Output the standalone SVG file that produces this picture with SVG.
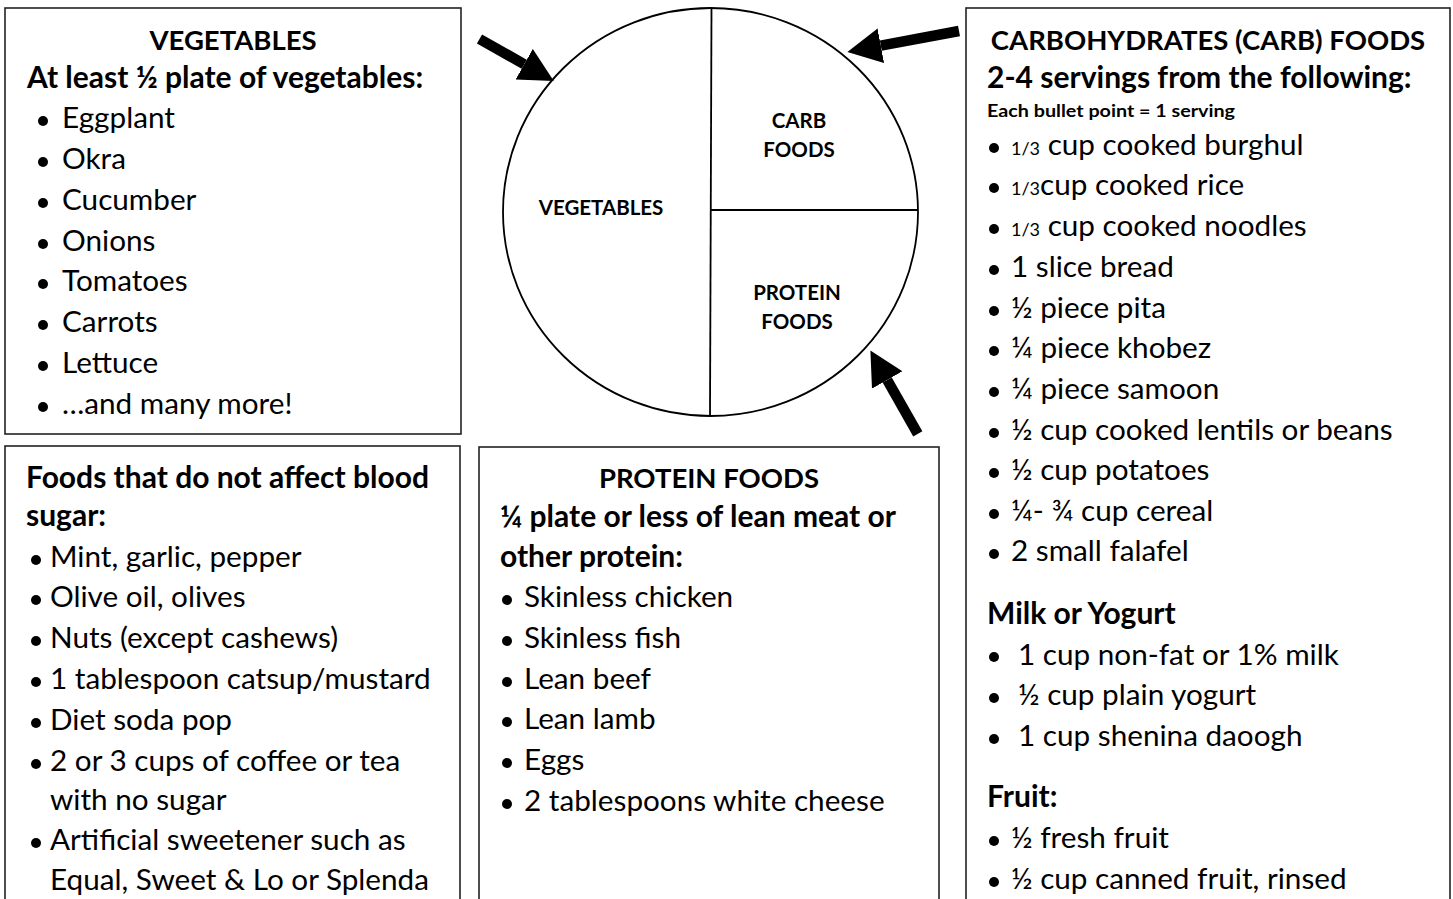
<svg xmlns="http://www.w3.org/2000/svg" width="1453" height="899" viewBox="0 0 1453 899">
<defs>
<style>
.box{fill:#fff;stroke:#222;stroke-width:1.6}
.t{font-family:Lato,"Liberation Sans",sans-serif;font-size:29.7px;fill:#000}
.b{font-family:Lato,"Liberation Sans",sans-serif;font-size:30px;font-weight:bold;fill:#000}
.h{font-family:Lato,"Liberation Sans",sans-serif;font-size:27.5px;font-weight:bold;fill:#000;text-anchor:middle}
.s{font-family:Lato,"Liberation Sans",sans-serif;font-size:16.5px;font-weight:bold;fill:#000}
.f{font-family:Lato,"Liberation Sans",sans-serif;font-size:18px;fill:#000}
.p{font-family:Lato,"Liberation Sans",sans-serif;font-size:20.5px;font-weight:bold;fill:#000;text-anchor:middle}
.plate{fill:#fff;stroke:#000;stroke-width:1.8}
.div{stroke:#000;stroke-width:1.8}
.arr{stroke:#000;stroke-width:10.5;fill:none;marker-end:url(#ah)}
.bul circle{fill:#000}
</style>
<marker id="ah" markerUnits="userSpaceOnUse" markerWidth="36" markerHeight="36" refX="0" refY="17.5" orient="auto" viewBox="0 0 36 36">
<path d="M0,0 L34,17.5 L0,35 Z" fill="#000"/>
</marker>
</defs>
<rect width="1453" height="899" fill="#fff"/>

<g id="vegetables-box">
<rect class="box" x="5" y="8" width="456" height="426"/>
<text class="h" x="233" y="50">VEGETABLES</text>
<text class="b" x="27" y="88">At least ½ plate of vegetables:</text>
<g class="bul"><circle cx="43" cy="121" r="5"/><circle cx="43" cy="162" r="5"/><circle cx="43" cy="203" r="5"/><circle cx="43" cy="244" r="5"/><circle cx="43" cy="284" r="5"/><circle cx="43" cy="325" r="5"/><circle cx="43" cy="366" r="5"/><circle cx="43" cy="407" r="5"/></g>
<text class="t" x="62" y="128">Eggplant</text>
<text class="t" x="62" y="169">Okra</text>
<text class="t" x="62" y="210">Cucumber</text>
<text class="t" x="62" y="251">Onions</text>
<text class="t" x="62" y="291">Tomatoes</text>
<text class="t" x="62" y="332">Carrots</text>
<text class="t" x="62" y="373">Lettuce</text>
<text class="t" x="62" y="414">…and many more!</text>
</g>

<g id="free-foods-box">
<rect class="box" x="5" y="446" width="455" height="470"/>
<text class="b" x="26" y="488">Foods that do not affect blood</text>
<text class="b" x="26" y="526">sugar:</text>
<g class="bul"><circle cx="36" cy="560" r="5"/><circle cx="36" cy="600" r="5"/><circle cx="36" cy="641" r="5"/><circle cx="36" cy="682" r="5"/><circle cx="36" cy="723" r="5"/><circle cx="36" cy="764" r="5"/><circle cx="36" cy="843" r="5"/></g>
<text class="t" x="50" y="567">Mint, garlic, pepper</text>
<text class="t" x="50" y="607">Olive oil, olives</text>
<text class="t" x="50" y="648">Nuts (except cashews)</text>
<text class="t" x="50" y="689">1 tablespoon catsup/mustard</text>
<text class="t" x="50" y="730">Diet soda pop</text>
<text class="t" x="50" y="771">2 or 3 cups of coffee or tea</text>
<text class="t" x="50" y="810">with no sugar</text>
<text class="t" x="50" y="850">Artificial sweetener such as</text>
<text class="t" x="50" y="890">Equal, Sweet &amp; Lo or Splenda</text>
</g>

<g id="protein-box">
<rect class="box" x="479" y="447" width="460" height="470"/>
<text class="h" x="709" y="488">PROTEIN FOODS</text>
<text class="b" x="500" y="527">¼ plate or less of lean meat or</text>
<text class="b" x="500" y="567">other protein:</text>
<g class="bul"><circle cx="507" cy="600" r="5"/><circle cx="507" cy="641" r="5"/><circle cx="507" cy="682" r="5"/><circle cx="507" cy="722" r="5"/><circle cx="507" cy="763" r="5"/><circle cx="507" cy="804" r="5"/></g>
<text class="t" x="524" y="607">Skinless chicken</text>
<text class="t" x="524" y="648">Skinless fish</text>
<text class="t" x="524" y="689">Lean beef</text>
<text class="t" x="524" y="729">Lean lamb</text>
<text class="t" x="524" y="770">Eggs</text>
<text class="t" x="524" y="811">2 tablespoons white cheese</text>
</g>

<g id="carb-box">
<rect class="box" x="966" y="8" width="484" height="910"/>
<text class="h" x="1208" y="50">CARBOHYDRATES (CARB) FOODS</text>
<text class="b" x="987" y="88">2-4 servings from the following:</text>
<text class="s" x="987" y="117" textLength="248" lengthAdjust="spacingAndGlyphs">Each bullet point = 1 serving</text>
<g class="bul"><circle cx="994" cy="148" r="5"/><circle cx="994" cy="188" r="5"/><circle cx="994" cy="229" r="5"/><circle cx="994" cy="270" r="5"/><circle cx="994" cy="311" r="5"/><circle cx="994" cy="351" r="5"/><circle cx="994" cy="392" r="5"/><circle cx="994" cy="433" r="5"/><circle cx="994" cy="473" r="5"/><circle cx="994" cy="514" r="5"/><circle cx="994" cy="554" r="5"/><circle cx="994" cy="657" r="5"/><circle cx="994" cy="698" r="5"/><circle cx="994" cy="739" r="5"/><circle cx="994" cy="841" r="5"/><circle cx="994" cy="882" r="5"/></g>
<text class="t" x="1011" y="155"><tspan class="f">1/3</tspan> cup cooked burghul</text>
<text class="t" x="1011" y="195"><tspan class="f">1/3</tspan>cup cooked rice</text>
<text class="t" x="1011" y="236"><tspan class="f">1/3</tspan> cup cooked noodles</text>
<text class="t" x="1011" y="277">1 slice bread</text>
<text class="t" x="1011" y="318">½ piece pita</text>
<text class="t" x="1011" y="358">¼ piece khobez</text>
<text class="t" x="1011" y="399">¼ piece samoon</text>
<text class="t" x="1011" y="440">½ cup cooked lentils or beans</text>
<text class="t" x="1011" y="480">½ cup potatoes</text>
<text class="t" x="1011" y="521">¼- ¾ cup cereal</text>
<text class="t" x="1011" y="561">2 small falafel</text>
<text class="b" x="987" y="624">Milk or Yogurt</text>
<text class="t" x="1018" y="665">1 cup non-fat or 1% milk</text>
<text class="t" x="1018" y="705">½ cup plain yogurt</text>
<text class="t" x="1018" y="746">1 cup shenina daoogh</text>
<text class="b" x="987" y="807">Fruit:</text>
<text class="t" x="1011" y="848">½ fresh fruit</text>
<text class="t" x="1011" y="889">½ cup canned fruit, rinsed</text>
</g>

<g id="plate">
<ellipse class="plate" cx="710.5" cy="212" rx="207.5" ry="204"/>
<line class="div" x1="711.5" y1="8" x2="710" y2="416"/>
<line class="div" x1="711" y1="210" x2="918" y2="210"/>
<text class="p" x="601" y="215">VEGETABLES</text>
<text class="p" x="799" y="128">CARB</text>
<text class="p" x="799" y="157">FOODS</text>
<text class="p" x="797" y="300">PROTEIN</text>
<text class="p" x="797" y="329">FOODS</text>
</g>

<g id="connectors">
<line class="arr" x1="479.5" y1="39" x2="524.2" y2="64.2"/>
<line class="arr" x1="959" y1="31" x2="880.8" y2="45.7"/>
<line class="arr" x1="917.8" y1="433.8" x2="887.2" y2="380"/>
</g>
</svg>
